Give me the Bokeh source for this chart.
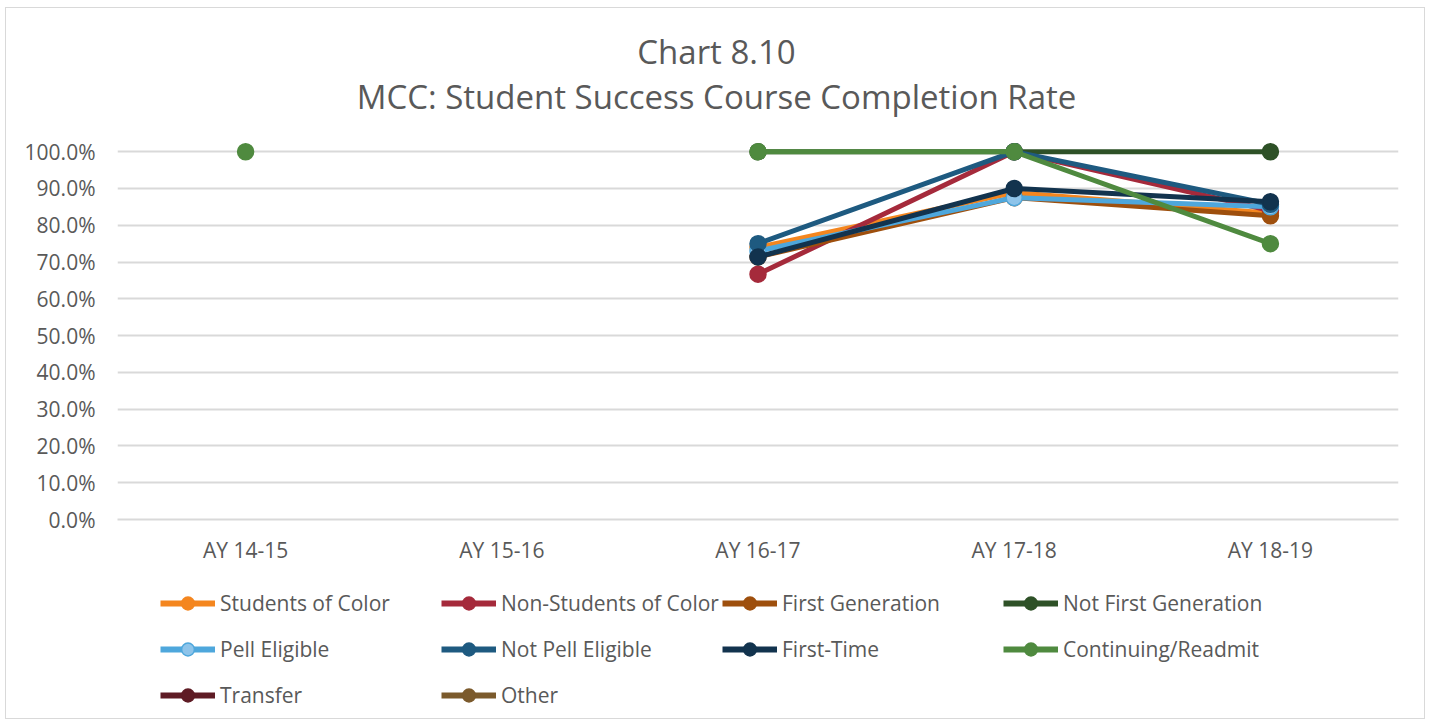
from bokeh.plotting import figure
from bokeh.layouts import column
from bokeh.models import (Legend, LegendItem, Label, FixedTicker, PrintfTickFormatter,
                          ColumnDataSource, Range1d)
from bokeh.embed import file_html
from bokeh.resources import INLINE

nan = float("nan")

years = ["AY 14-15", "AY 15-16", "AY 16-17", "AY 17-18", "AY 18-19"]
series_names = ["Students of Color", "Non-Students of Color", "First Generation",
                "Not First Generation", "Pell Eligible", "Not Pell Eligible",
                "First-Time", "Continuing/Readmit", "Transfer", "Other"]

students_of_color = [nan, nan, 74.0, 88.9, 83.3]
non_students_of_color = [nan, nan, 66.7, 100.0, 84.0]
first_generation = [nan, nan, 71.4, 87.5, 82.6]
not_first_generation = [nan, nan, 100.0, 100.0, 100.0]
pell_eligible = [nan, nan, 73.0, 87.5, 85.0]
not_pell_eligible = [nan, nan, 75.0, 100.0, 85.7]
first_time = [nan, nan, 71.4, 90.0, 86.4]
continuing_readmit = [100.0, nan, 100.0, 100.0, 75.0]
transfer = [nan, nan, nan, nan, nan]
other = [nan, nan, nan, nan, nan]

title_lines = ["Chart 8.10", "MCC: Student Success Course Completion Rate"]
y_ticks = list(range(0, 101, 10))

values = [students_of_color, non_students_of_color, first_generation,
          not_first_generation, pell_eligible, not_pell_eligible,
          first_time, continuing_readmit, transfer, other]
colors = ["#F4861F", "#A52A3B", "#9E4F0D", "#2E5127", "#4EA7DC", "#1E5A80",
          "#12334E", "#4F8A3F", "#5E1B24", "#7B5A2C"]
fills = list(colors)
fills[4] = "#8EC4EA"

TXT = "#595959"
FONT = "Open Sans"
W = 1418
LEFT = 111


def blank(height, x_range, y_range):
    f = figure(width=W, height=height, x_range=x_range, y_range=y_range,
               output_backend="svg", toolbar_location=None,
               x_axis_type=None, y_axis_type=None,
               min_border_left=LEFT, min_border_right=26, min_border_top=0,
               min_border_bottom=0)
    f.grid.visible = False
    f.outline_line_color = None
    return f


# --- title strip ---
p0 = blank(123, Range1d(0, 1), Range1d(0, 1))
for txt, ys in zip(title_lines, [80, 35]):
    p0.add_layout(Label(x=710 - LEFT, y=ys, x_units="screen", y_units="screen",
                        text=txt, text_align="center", text_baseline="middle",
                        text_font=FONT, text_font_size="33px", text_color=TXT))

# --- main plot (small headroom above 100% so markers are not clipped) ---
p = figure(x_range=years, y_range=(0, 102.5), width=W, height=440,
           output_backend="svg", toolbar_location=None,
           min_border_left=LEFT, min_border_right=26, min_border_top=11,
           min_border_bottom=52)
p.outline_line_color = None
p.xgrid.grid_line_color = None
p.ygrid.grid_line_color = "#D9D9D9"
p.ygrid.grid_line_width = 2
p.yaxis.ticker = FixedTicker(ticks=y_ticks)
p.yaxis.formatter = PrintfTickFormatter(format="%.1f%%")
for ax in (p.xaxis, p.yaxis):
    ax.axis_line_color = None
    ax.major_tick_line_color = None
    ax.minor_tick_line_color = None
    ax.major_label_text_color = TXT
    ax.major_label_text_font = FONT
    ax.major_label_text_font_size = "21px"
p.xaxis.axis_line_color = "#D9D9D9"
p.xaxis.axis_line_width = 2
p.xaxis.major_label_standoff = 10
p.yaxis.major_label_standoff = 16

sources = []
for name, vals, col, fc in zip(series_names, values, colors, fills):
    src = ColumnDataSource(dict(x=years, y=vals))
    sources.append(src)
    p.line("x", "y", source=src, line_color=col, line_width=5)
    p.scatter("x", "y", source=src, size=16, fill_color=fc,
              line_color=col, line_width=1.5)

# --- legend strip (same sources, y-range chosen so no data is in view) ---
p2 = blank(147, years, Range1d(-2, -1))
items = []
for name, src, col, fc in zip(series_names, sources, colors, fills):
    r1 = p2.line("x", "y", source=src, line_color=col, line_width=6)
    r2 = p2.scatter("x", "y", source=src, size=14, fill_color=fc,
                    line_color=col, line_width=1.5)
    items.append(LegendItem(label=name, renderers=[r1, r2]))

legend = Legend(items=items, ncols=4, orientation="horizontal",
                location=(154 - LEFT, 0),
                label_text_font=FONT, label_text_font_size="21px",
                label_text_color=TXT, glyph_width=55, glyph_height=32,
                label_height=46, label_width=221, label_standoff=5,
                spacing=0, padding=0, margin=0, border_line_color=None,
                background_fill_alpha=0)
p2.add_layout(legend, "center")

layout = column(p0, p, p2, spacing=0,
                styles={"border": "1px solid #D9D9D9", "margin-left": "5px",
                        "margin-top": "7px"})

open("out.html", "w").write(file_html(layout, INLINE))
